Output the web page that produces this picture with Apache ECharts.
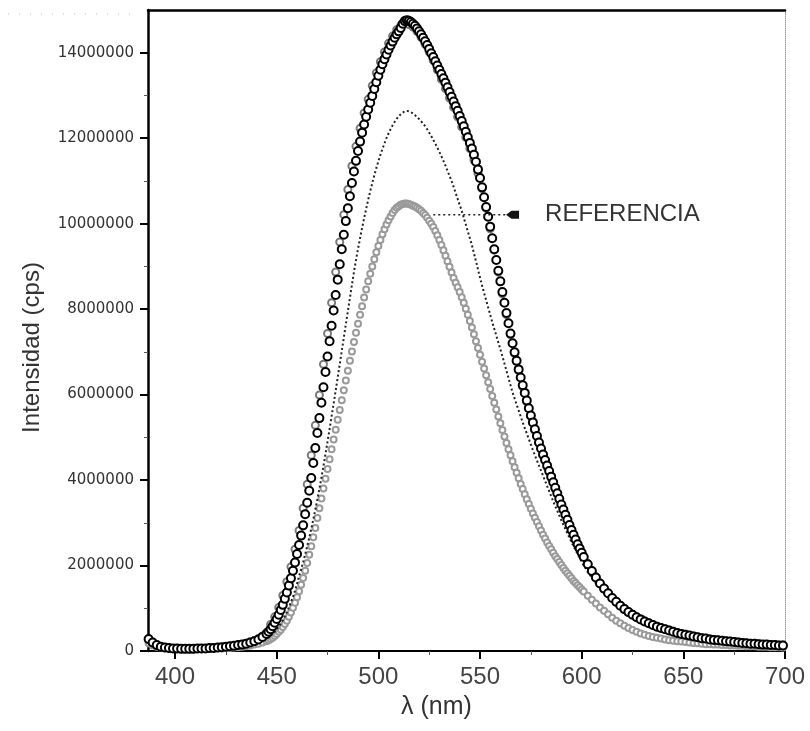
<!DOCTYPE html>
<html><head><meta charset="utf-8">
<script src="https://cdn.jsdelivr.net/npm/echarts@6/dist/echarts.min.js"></script>
<style>html,body{margin:0;padding:0;background:#fff}#c{width:810px;height:731px}</style>
</head><body><div id="c"></div>
<script>
// wavelength grid (nm) shared by curves A, C, D
const wavelengths = [
387,389,391,393,395,397,399,401,403,405,407,409,411,413,415,417,419,421,423,425,427,429,431,433,435,437,439,441,443,445,
446,447,448,449,450,451,452,453,454,455,
456,457,458,459,460,461,462,463,464,465,
466,467,468,469,470,471,472,473,474,475,
476,477,478,479,480,481,482,483,484,485,
486,487,488,489,490,491,492,493,494,495,
496,497,498,499,500,501,502,503,504,505,
506,507,508,509,510,511,512,513,514,515,
516,517,518,519,520,521,522,523,524,525,
526,527,528,529,530,531,532,533,534,535,
536,537,538,539,540,541,542,543,544,545,
546,547,548,549,550,551,552,553,554,555,
556,557,558,559,560,561,562,563,564,565,
566,567,568,569,570,571,572,573,574,575,
576,577,578,579,580,581,582,583,584,585,
586,587,588,589,590,591,592,593,594,595,
596,597,598,599,600,601,
603,605,607,609,611,613,615,617,619,621,
623,625,627,629,631,633,635,637,639,641,
643,645,647,649,651,653,655,657,659,661,
663,665,667,669,671,673,675,677,679,681,
683,685,687,689,691,693,695,697,699
];
// wavelength grid (nm) for curve B
const wavelengthsB = [
387,389,391,393,395,397,399,401,403,405,
407,409,411,413,415,417,419,421,423,425,
427,429,431,433,435,437,439,441,443,445,
447,449,451,453,455,457,459,461,463,465,
467,469,471,473,475,477,479,481,483,485,
487,489,491,493,495,497,499,501,503,505,
507,509,511,513,515,517,519,521,523,525,
527,529,531,533,535,537,539,541,543,545,
547,549,551,553,555,557,559,561,563,565,
567,569,571,573,575,577,579,581,583,585,
587,589,591,593,595,597,599,601,603,605,
607,609,611,613,615,617,619,621,623,625,
627,629,631,633,635,637,639,641,643,645,
647,649,651,653,655,657,659,661,663,665,
667,669,671,673,675,677,679,681,683,685,
687,689,691,693,695,697,699
];
// intensities in units of 10^4 cps
const curveA = [ // black open circles (highest)
28,20,14,10,8,7,6,6,5,5,5,5,6,6,6,7,7,8,9,10,11,12,14,15,17,20,23,27,33,40,
45,51,58,66,75,85,96,108,122,137,
153,170,188,207,227,248,270,294,320,347,
375,405,440,475,510,545,581,617,653,689,
725,761,797,833,869,905,940,974,1006,1036,
1064,1095,1122,1147,1170,1192,1213,1232,1250,1267,
1283,1299,1315,1331,1346,1360,1373,1385,1396,1407,
1417,1426,1435,1443,1450,1458,1468,1474,1476,1475,
1472,1468,1463,1457,1450,1443,1435,1427,1418,1409,
1399,1390,1380,1370,1360,1350,1340,1330,1319,1308,
1297,1286,1275,1264,1252,1240,1228,1215,1202,1189,
1176,1161,1145,1127,1107,1085,1062,1039,1016,993,
966,940,915,890,865,840,815,791,767,743,
720,699,679,659,640,622,604,586,568,551,
535,519,503,488,474,460,447,434,421,408,
395,382,369,356,343,331,319,307,295,283,
272,261,250,240,230,220,
203,187,172,158,146,135,124,115,106,98,
91,85,79,74,69,65,61,57,54,51,
48,45,42,40,38,36,34,32,30,29,
27,26,25,24,23,22,21,20,19,18,
17,17,16,15,15,14,14,13,13
];
const curveB = [ // grey open markers, nearly on top of A
26,19,13,10,8,7,6,6,5,5,
5,5,6,6,6,7,7,8,9,10,
11,12,14,16,18,21,24,29,35,43,
62,80,102,130,162,197,238,282,334,390,
458,528,599,671,743,815,887,957,1021,1080,
1135,1181,1223,1259,1291,1323,1353,1379,1402,1422,
1439,1454,1464,1468,1466,1460,1450,1436,1420,1402,
1382,1360,1338,1316,1294,1272,1250,1226,1202,1176,
1149,1118,1082,1036,988,938,887,836,787,740,
696,656,618,583,549,516,486,457,430,404,
379,354,330,306,284,262,242,222,204,188,
173,159,147,135,125,115,107,99,92,86,
80,75,70,66,62,58,55,52,49,46,
43,41,39,37,35,33,31,30,28,27,
26,25,24,23,22,21,20,19,18,18,
17,16,16,15,15,14,14
];
const curveC = [ // dotted dark curve (middle)
22,16,12,9,7,6,5,5,4,4,4,4,5,5,5,6,6,7,7,8,9,10,11,12,14,16,18,21,25,29,
32,36,40,45,51,57,64,72,81,91,
102,114,127,141,157,175,191,208,226,245,
265,286,308,331,355,380,406,433,461,490,
519,549,579,609,640,671,702,733,764,795,
826,857,887,915,941,966,990,1013,1035,1056,
1076,1095,1113,1130,1146,1161,1175,1188,1200,1211,
1221,1230,1238,1245,1251,1256,1260,1263,1264,1263,
1261,1258,1254,1250,1245,1240,1234,1228,1221,1213,
1205,1196,1187,1178,1168,1158,1147,1136,1124,1112,
1100,1086,1072,1058,1044,1030,1014,998,982,966,
950,931,912,893,874,855,838,821,804,787,
770,754,738,722,706,690,673,656,639,622,
605,591,577,563,549,535,522,509,496,483,
470,458,446,434,422,410,398,386,374,362,
350,339,328,317,306,295,285,275,265,255,
245,236,227,218,209,200,
185,171,158,146,135,125,116,107,99,92,
86,80,74,69,65,61,57,54,51,48,
45,43,40,38,36,34,32,30,29,27,
26,25,24,23,22,21,20,19,18,17,
17,16,15,15,14,14,13,13,12
];
const curveD = [ // light grey open circles (lowest, REFERENCIA)
18,13,10,8,6,5,5,4,4,4,4,4,4,4,5,5,5,6,6,7,7,8,9,10,11,13,15,17,20,23,
25,28,31,35,40,45,50,56,63,71,
80,90,101,113,126,140,155,171,188,206,
225,245,266,288,311,334,357,380,403,426,
449,472,495,518,541,564,587,610,633,656,
679,701,723,745,766,787,807,827,846,865,
883,900,917,933,948,962,975,987,998,1008,
1017,1025,1032,1037,1041,1044,1046,1047,1047,1046,
1044,1042,1040,1037,1034,1030,1025,1020,1014,1007,
1000,992,983,973,962,950,938,925,912,899,
886,873,862,851,840,828,815,801,787,772,
757,741,725,709,693,677,661,645,629,613,
597,581,565,549,533,517,502,487,472,458,
444,430,417,404,391,379,367,355,344,333,
322,312,302,292,282,272,263,254,246,238,
230,222,215,208,201,194,188,182,176,170,
164,159,154,149,144,139,
129,120,111,102,94,86,78,71,65,59,
54,49,45,41,38,35,33,31,29,27,
25,24,23,22,21,20,19,18,17,16,
16,15,15,14,14,13,13,12,12,11,
11,11,10,10,10,9,9,9,8
];
const UNIT = 1e4;
const xTicks = [400, 450, 500, 550, 600, 650, 700];
const xMinorTicks = [425, 475, 525, 575, 625, 675];
const yTicks = [0, 2000000, 4000000, 6000000, 8000000, 10000000, 12000000, 14000000];
const yMinorTicks = [1000000, 3000000, 5000000, 7000000, 9000000, 11000000, 13000000];
const refLineX = [527, 566];
const refLineY = 10210000;
const refText = 'REFERENCIA';
const X_MIN = 386.7, X_MAX = 700, Y_MIN = 0, Y_MAX = 15000000;

[[wavelengths, curveA], [wavelengths, curveC], [wavelengths, curveD], [wavelengthsB, curveB]].forEach(([w, c], i) => {
  if (w.length !== c.length) throw new Error('length mismatch ' + i + ': ' + w.length + ' vs ' + c.length);
});
function pairs(xs, ys) { return xs.map((x, i) => [x, ys[i] * UNIT]); }

const chart = echarts.init(document.getElementById('c'), null, { renderer: 'canvas' });
const noSplit = { show: false };
chart.setOption({
  animation: false,
  backgroundColor: '#fff',
  grid: { left: 148, right: 25, top: 10, bottom: 80 },
  xAxis: [
    {
      type: 'value', min: X_MIN, max: X_MAX, position: 'bottom',
      axisLine: { show: true, onZero: false, lineStyle: { color: '#000', width: 2 } },
      axisTick: { show: true, length: 8, lineStyle: { color: '#000', width: 2 }, customValues: xTicks },
      axisLabel: { customValues: xTicks, fontSize: 24, fontFamily: 'Liberation Sans', color: '#444', margin: 14 },
      splitLine: noSplit,
      name: 'λ (nm)', nameLocation: 'middle', nameGap: 44,
      nameTextStyle: { fontSize: 25, fontFamily: 'Liberation Sans', color: '#333', padding: [0, 60, 0, 0] }
    },
    {
      type: 'value', min: X_MIN, max: X_MAX, position: 'bottom',
      axisLine: { show: false, onZero: false },
      axisTick: { show: true, length: 4, lineStyle: { color: '#555', width: 1 }, customValues: xMinorTicks },
      axisLabel: { show: false }, splitLine: noSplit
    },
    {
      type: 'value', min: X_MIN, max: X_MAX, position: 'top',
      axisLine: { show: true, onZero: false, lineStyle: { color: '#000', width: 2.5 } },
      axisTick: { show: false }, axisLabel: { show: false }, splitLine: noSplit
    }
  ],
  yAxis: [
    {
      type: 'value', min: Y_MIN, max: Y_MAX, position: 'left',
      axisLine: { show: true, onZero: false, lineStyle: { color: '#000', width: 2.5 } },
      axisTick: { show: true, length: 8, lineStyle: { color: '#000', width: 2 }, customValues: yTicks },
      axisLabel: { customValues: yTicks, formatter: v => String(v), fontSize: 15, fontFamily: 'DejaVu Sans', color: '#333', margin: 14 },
      splitLine: noSplit,
      name: 'Intensidad (cps)', nameLocation: 'middle', nameGap: 104,
      nameTextStyle: { fontSize: 24, fontFamily: 'Liberation Sans', color: '#333', padding: [0, 34, 0, 0] }
    },
    {
      type: 'value', min: Y_MIN, max: Y_MAX, position: 'left',
      axisLine: { show: false, onZero: false },
      axisTick: { show: true, length: 4, lineStyle: { color: '#555', width: 1 }, customValues: yMinorTicks },
      axisLabel: { show: false }, splitLine: noSplit
    },
    {
      type: 'value', min: Y_MIN, max: Y_MAX, position: 'right',
      axisLine: { show: true, onZero: false, lineStyle: { color: '#999', width: 1, type: 'dotted' } },
      axisTick: { show: false }, axisLabel: { show: false }, splitLine: noSplit
    }
  ],
  graphic: [
    { type: 'line', shape: { x1: 8, y1: 14, x2: 140, y2: 14 }, style: { stroke: '#bbb', lineWidth: 1, lineDash: [1, 10] }, silent: true }
  ],
  series: [
    {
      name: 'D', type: 'line', data: pairs(wavelengths, curveD),
      symbol: 'emptyCircle', symbolSize: 6, showSymbol: true,
      lineStyle: { width: 0, opacity: 0 },
      itemStyle: { color: '#9a9a9a', borderColor: '#9a9a9a', borderWidth: 1.1 }, z: 2, silent: true
    },
    {
      name: 'C', type: 'line', data: pairs(wavelengths, curveC),
      symbol: 'none', lineStyle: { type: [2, 2.5], width: 2, color: '#222' }, z: 3, silent: true
    },
    {
      name: 'B', type: 'line', data: pairs(wavelengthsB, curveB),
      symbol: 'emptyCircle', symbolSize: 7, showSymbol: true,
      lineStyle: { width: 0, opacity: 0 },
      itemStyle: { color: '#7a7a7a', borderColor: '#7a7a7a', borderWidth: 1.2 }, z: 4, silent: true
    },
    {
      name: 'A', type: 'line', data: pairs(wavelengths, curveA),
      symbol: 'emptyCircle', symbolSize: 8, showSymbol: true,
      lineStyle: { width: 0, opacity: 0 },
      itemStyle: { color: '#000', borderColor: '#000', borderWidth: 1.8 }, z: 5, silent: true
    },
    {
      name: refText, type: 'line', z: 10, silent: true,
      data: [
        { value: [refLineX[0], refLineY], symbol: 'none' },
        {
          value: [refLineX[1], refLineY],
          symbol: 'path://M0,4 L5,0 L12,0 L12,8 L5,8 Z', symbolSize: [13, 8],
          label: { show: true, formatter: refText, position: 'right', distance: 26, fontSize: 24, fontFamily: 'Liberation Sans', color: '#333' }
        }
      ],
      lineStyle: { type: [2, 3], width: 1.5, color: '#222' },
      itemStyle: { color: '#111' }
    }
  ]
});
</script>
</body></html>
